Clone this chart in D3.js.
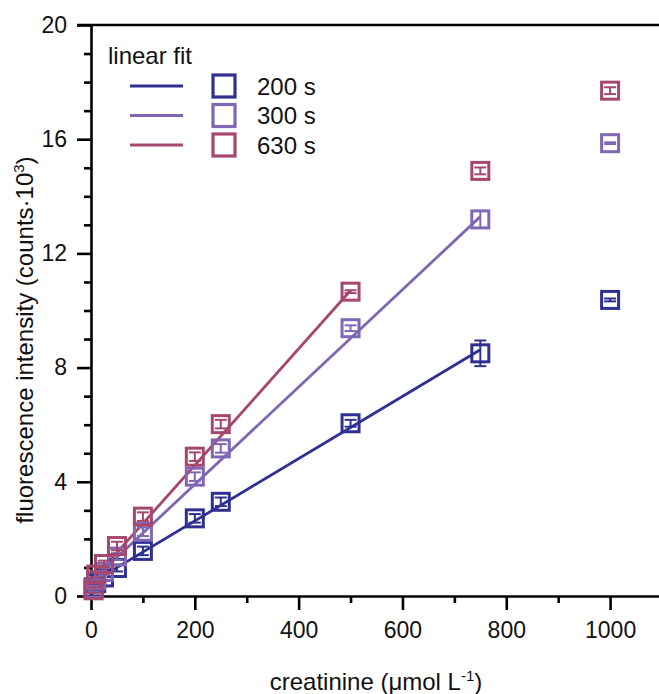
<!DOCTYPE html>
<html>
<head>
<meta charset="utf-8">
<script src="https://cdn.jsdelivr.net/npm/d3@7"></script>
<style>
  html, body { margin: 0; padding: 0; background: #fff; }
  svg { display: block; font-family: "Liberation Sans", Arial, sans-serif; }
</style>
</head>
<body>
<svg id="chart" width="659" height="694"></svg>
<script>
// creatinine concentrations (µmol/L)
const concentrations = [5, 10, 25, 50, 100, 200, 250, 500, 750, 1000];

// fluorescence intensity (counts·10³) for each reaction time
const series200 = [0.30, 0.45, 0.65, 0.98, 1.58, 2.72, 3.30, 6.05, 8.50, 10.37];
const series300 = [0.25, 0.55, 0.85, 1.38, 2.25, 4.18, 5.17, 9.38, 13.19, 15.86];
const series630 = [0.20, 0.75, 1.12, 1.75, 2.78, 4.88, 6.02, 10.66, 14.89, 17.70];

// standard deviations
const err200 = [0.10, 0.10, 0.12, 0.12, 0.15, 0.15, 0.15, 0.12, 0.45, 0.05];
const err300 = [0.10, 0.10, 0.12, 0.12, 0.15, 0.15, 0.15, 0.10, 0.30, 0.03];
const err630 = [0.10, 0.10, 0.12, 0.15, 0.15, 0.15, 0.15, 0.05, 0.12, 0.12];

// linear fit parameters and fitted range (upper concentration)
const seriesNames = ["200 s", "300 s", "630 s"];
const fitSlopes = [0.01090, 0.01705, 0.02040];
const fitIntercepts = [0.45, 0.50, 0.50];
const fitMax = [750, 750, 500];

const xTicks = [0, 200, 400, 600, 800, 1000];
const yTicks = [0, 4, 8, 12, 16, 20];

const colors = ["#2e3192", "#7f67b3", "#a6476f"];

const svg = d3.select("#chart");
const x = d3.scaleLinear().domain([0, 1100]).range([91, 662]);
const y = d3.scaleLinear().domain([0, 20]).range([596, 25]);

const fontSize = 23;
const titleSize = 24;

// axes
const xAxis = d3.axisBottom(x)
  .tickValues(d3.range(0, 1101, 100))
  .tickFormat(d => xTicks.includes(d) ? d : "")
  .tickSize(14).tickSizeOuter(0).tickPadding(12);
const gx = svg.append("g").attr("transform", `translate(0,${y(0)})`).call(xAxis);

const yAxis = d3.axisLeft(y)
  .tickValues(d3.range(0, 21, 1))
  .tickFormat(d => yTicks.includes(d) ? d : "")
  .tickSize(14).tickSizeOuter(0).tickPadding(10);
const gy = svg.append("g").attr("transform", `translate(${x(0)},0)`).call(yAxis);

[gx, gy].forEach(g => {
  g.select(".domain").attr("stroke", "#000").attr("stroke-width", 2.6);
  g.selectAll(".tick line").attr("stroke", "#000").attr("stroke-width", 2.6);
  g.selectAll(".tick text").attr("fill", "#111").style("font-size", fontSize + "px");
});
// minor ticks shorter
gx.selectAll(".tick").filter(d => !xTicks.includes(d)).select("line").attr("y2", 7);
gy.selectAll(".tick").filter(d => !yTicks.includes(d)).select("line").attr("x2", -7);

// top frame line
svg.append("line")
  .attr("x1", x(0) - 14).attr("x2", x(1100))
  .attr("y1", y(20)).attr("y2", y(20))
  .attr("stroke", "#000").attr("stroke-width", 2.6);

// axis titles
svg.append("text")
  .attr("x", 376).attr("y", 690)
  .attr("text-anchor", "middle")
  .style("font-size", titleSize + "px").attr("fill", "#111")
  .html('creatinine (μmol L<tspan dy="-9" font-size="15">-1</tspan><tspan dy="9">)</tspan>');

svg.append("text")
  .attr("transform", "translate(33,340) rotate(-90)")
  .attr("text-anchor", "middle")
  .style("font-size", titleSize + "px").attr("fill", "#111")
  .html('fluorescence intensity (counts·10<tspan dy="-9" font-size="15">3</tspan><tspan dy="9">)</tspan>');

// data
const values = [series200, series300, series630];
const errors = [err200, err300, err630];

const plot = svg.append("g");

// fit lines
values.forEach((vals, i) => {
  const xs = [0, fitMax[i]];
  plot.append("line")
    .attr("x1", x(xs[0])).attr("y1", y(fitIntercepts[i] + fitSlopes[i] * xs[0]))
    .attr("x2", x(xs[1])).attr("y2", y(fitIntercepts[i] + fitSlopes[i] * xs[1]))
    .attr("stroke", colors[i]).attr("stroke-width", 2.8);
});

const sq = 17;
values.forEach((vals, i) => {
  const g = plot.append("g").attr("stroke", colors[i]).attr("fill", "none");
  const pts = concentrations.map((c, j) => ({ c, v: vals[j], e: errors[i][j] }));
  // error bars
  pts.forEach(p => {
    const cx = x(p.c);
    g.append("line").attr("x1", cx).attr("x2", cx)
      .attr("y1", y(p.v - p.e)).attr("y2", y(p.v + p.e)).attr("stroke-width", 2);
    [p.v - p.e, p.v + p.e].forEach(ev => {
      g.append("line").attr("x1", cx - 6).attr("x2", cx + 6)
        .attr("y1", y(ev)).attr("y2", y(ev)).attr("stroke-width", 2);
    });
  });
  // square markers
  g.selectAll("rect").data(pts).join("rect")
    .attr("x", d => x(d.c) - sq / 2).attr("y", d => y(d.v) - sq / 2)
    .attr("width", sq).attr("height", sq)
    .attr("stroke-width", 3);
});

// legend
const legend = svg.append("g");
legend.append("text").attr("x", 108).attr("y", 64)
  .style("font-size", titleSize + "px").attr("fill", "#111").text("linear fit");
seriesNames.forEach((name, i) => {
  const ly = 86 + i * 29.5;
  legend.append("line").attr("x1", 130).attr("x2", 183).attr("y1", ly).attr("y2", ly)
    .attr("stroke", colors[i]).attr("stroke-width", 3);
  legend.append("rect").attr("x", 213).attr("y", ly - 11).attr("width", 22).attr("height", 22)
    .attr("fill", "none").attr("stroke", colors[i]).attr("stroke-width", 3.2);
  legend.append("text").attr("x", 257).attr("y", ly + 8.5)
    .style("font-size", titleSize + "px").attr("fill", "#111").text(name);
});
</script>
</body>
</html>
